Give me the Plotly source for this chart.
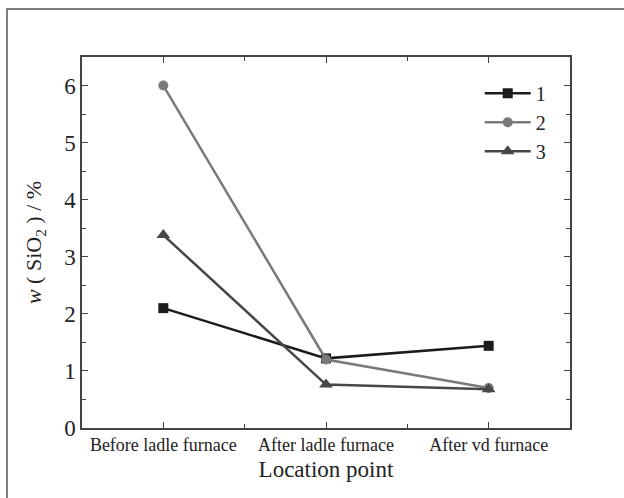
import plotly.graph_objects as go

categories = ["Before ladle furnace", "After ladle furnace", "After vd furnace"]
series1 = [2.10, 1.22, 1.44]
series2 = [6.00, 1.20, 0.70]
series3 = [3.38, 0.76, 0.68]
names = ["1", "2", "3"]
colors = ["#1c1c1c", "#7a7a7a", "#474747"]
symbols = ["square", "circle", "triangle-up"]

fig = go.Figure()
for name, vals, col, sym in zip(names, [series1, series2, series3], colors, symbols):
    fig.add_trace(go.Scatter(
        x=list(range(len(categories))), y=vals, name=name, mode="lines+markers",
        line=dict(color=col, width=2.5),
        marker=dict(symbol=sym, size=10 if sym != "triangle-up" else 12, color=col),
    ))

font = "Liberation Serif"
fig.update_layout(
    width=624, height=498,
    margin=dict(l=82, r=54, t=57, b=70),
    paper_bgcolor="white", plot_bgcolor="white",
    font=dict(family=font, color="#222"),
    showlegend=True,
    legend=dict(x=0.815, y=0.955, xanchor="left", yanchor="top",
                font=dict(size=20, family=font), bgcolor="rgba(0,0,0,0)",
                tracegroupgap=0, itemwidth=46),
    xaxis=dict(
        range=[-0.5, 2.5], tickmode="array", tickvals=[0, 1, 2], ticktext=categories,
        ticks="inside", ticklen=6, tickcolor="#444", showgrid=False, zeroline=False,
        showline=True, linecolor="#444", linewidth=1.5, mirror="ticks",
        tickfont=dict(size=18, family=font),
        minor=dict(tickvals=[-0.5, 0.5, 1.5, 2.5], ticks="inside", ticklen=4, tickcolor="#444"),
        title=dict(text="Location point", font=dict(size=23, family=font), standoff=7),
    ),
    yaxis=dict(
        range=[0, 6.5], dtick=1, ticks="inside", ticklen=6, tickcolor="#444",
        showgrid=False, zeroline=False,
        showline=True, linecolor="#444", linewidth=1.5, mirror="ticks",
        tickfont=dict(size=23, family=font),
        minor=dict(dtick=0.5, ticks="inside", ticklen=4, tickcolor="#444"),
        title=dict(text="<i>w</i> ( SiO<sub>2</sub> ) / %", font=dict(size=22, family=font), standoff=16),
    ),
    shapes=[dict(type="rect", xref="paper", yref="paper",
                 x0=(7 - 82) / 488, x1=(640 - 82) / 488,
                 y0=(428 - 515) / 371, y1=(428 - 9) / 371,
                 line=dict(color="#555", width=1.5), fillcolor="rgba(0,0,0,0)", layer="below")],
)

fig.write_html("out.html")
